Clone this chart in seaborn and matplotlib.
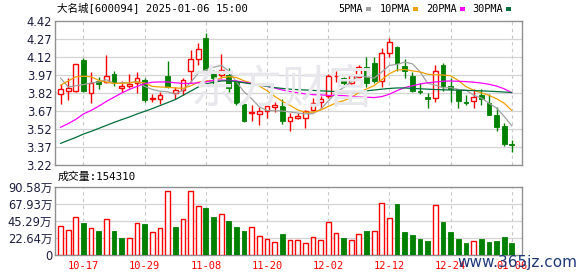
import numpy as np
import pandas as pd
import matplotlib
matplotlib.use("Agg")
import matplotlib.pyplot as plt
import seaborn as sns
from matplotlib.patches import Rectangle

# ---------------- data ----------------
dates = (
    ["2024-10-%02d" % d for d in [14, 15, 16, 17, 18, 21, 22, 23, 24, 25, 28, 29, 30, 31]]
    + ["2024-11-%02d" % d for d in [1, 4, 5, 6, 7, 8, 11, 12, 13, 14, 15, 18, 19, 20, 21, 22, 25, 26, 27, 28, 29]]
    + ["2024-12-%02d" % d for d in [2, 3, 4, 5, 6, 9, 10, 11, 12, 13, 16, 17, 18, 19, 20, 23, 24, 25, 26, 27, 30, 31]]
    + ["2025-01-%02d" % d for d in [2, 3, 6]]
)
opens = [3.815, 3.834, 3.834, 4.095, 3.817, 3.917, 3.909, 3.978, 3.865, 3.880,
         3.900, 3.928, 3.770, 3.767, 3.964, 3.817, 3.842, 4.000, 4.106, 4.278,
         3.978, 3.973, 3.967, 3.917, 3.728, 3.655, 3.645, 3.670, 3.700, 3.712,
         3.584, 3.612, 3.612, 3.678, 3.742, 3.795, 3.958, 3.945, 3.900, 3.950,
         4.034, 4.073, 3.917, 4.156, 4.206, 4.045, 3.962, 3.840, 3.790, 3.778,
         4.056, 3.878, 3.850, 3.745, 3.750, 3.800, 3.740, 3.634, 3.545, 3.392]
highs = [3.898, 3.945, 4.065, 4.110, 3.995, 3.950, 4.140, 4.006, 3.920, 3.978,
         3.995, 3.942, 3.810, 3.828, 4.090, 3.867, 3.945, 4.178, 4.234, 4.323,
         4.010, 4.145, 4.030, 3.928, 3.734, 3.717, 3.700, 3.717, 3.745, 3.767,
         3.650, 3.650, 3.678, 3.778, 3.795, 3.975, 4.000, 3.955, 3.975, 4.050,
         4.120, 4.120, 4.195, 4.278, 4.210, 4.100, 3.995, 3.900, 3.817, 4.050,
         4.067, 3.945, 3.856, 3.800, 3.850, 3.856, 3.810, 3.706, 3.573, 3.428]
lows = [3.731, 3.764, 3.830, 3.830, 3.737, 3.856, 3.900, 3.878, 3.830, 3.862,
        3.820, 3.745, 3.742, 3.730, 3.860, 3.773, 3.800, 3.912, 4.056, 4.000,
        3.878, 3.945, 3.825, 3.720, 3.580, 3.590, 3.556, 3.610, 3.662, 3.565,
        3.506, 3.600, 3.530, 3.670, 3.690, 3.780, 3.915, 3.867, 3.895, 3.950,
        3.867, 3.900, 3.873, 4.120, 4.000, 3.945, 3.830, 3.810, 3.692, 3.745,
        3.834, 3.745, 3.692, 3.720, 3.695, 3.717, 3.640, 3.500, 3.378, 3.325]
closes = [3.855, 3.862, 4.062, 3.839, 3.900, 3.895, 3.959, 3.900, 3.875, 3.898,
          3.942, 3.762, 3.775, 3.800, 3.870, 3.842, 3.928, 4.100, 4.184, 4.012,
          3.945, 4.012, 3.862, 3.734, 3.590, 3.660, 3.673, 3.712, 3.723, 3.584,
          3.620, 3.628, 3.673, 3.734, 3.767, 3.962, 3.965, 3.900, 3.967, 4.034,
          3.900, 3.917, 4.156, 4.245, 4.073, 4.000, 3.840, 3.825, 3.767, 4.000,
          3.878, 3.856, 3.750, 3.740, 3.784, 3.767, 3.640, 3.540, 3.395, 3.390]
volumes = [390000, 336000, 507000, 430000, 363000, 323000, 480000, 323000, 233000, 229000,
           426000, 417000, 305000, 363000, 856000, 368000, 484000, 856000, 655000, 623000,
           511000, 552000, 457000, 377000, 323000, 377000, 256000, 211000, 170000, 283000,
           197000, 197000, 157000, 242000, 197000, 439000, 291000, 229000, 197000, 278000,
           323000, 318000, 695000, 498000, 673000, 309000, 269000, 215000, 188000, 668000,
           444000, 309000, 215000, 161000, 184000, 215000, 175000, 188000, 242000, 154310]
ma5 = [3.945, 3.870, 3.880, 3.890, 3.904, 3.912, 3.931, 3.899, 3.906, 3.905,
       3.915, 3.875, 3.850, 3.835, 3.830, 3.810, 3.843, 3.908, 3.985, 4.013,
       4.034, 4.051, 4.003, 3.913, 3.829, 3.772, 3.704, 3.674, 3.672, 3.670,
       3.662, 3.653, 3.646, 3.648, 3.684, 3.753, 3.820, 3.866, 3.912, 3.966,
       3.953, 3.944, 3.995, 4.050, 4.058, 4.078, 4.063, 3.997, 3.901, 3.886,
       3.862, 3.865, 3.850, 3.845, 3.802, 3.779, 3.736, 3.694, 3.625, 3.546]
ma10 = [3.885, 3.920, 3.955, 3.960, 3.955, 3.925, 3.910, 3.900, 3.900, 3.905,
        3.913, 3.903, 3.875, 3.870, 3.868, 3.862, 3.859, 3.879, 3.910, 3.922,
        3.922, 3.947, 3.956, 3.949, 3.921, 3.903, 3.878, 3.839, 3.793, 3.750,
        3.717, 3.679, 3.660, 3.660, 3.677, 3.708, 3.737, 3.756, 3.780, 3.825,
        3.853, 3.882, 3.931, 3.981, 4.012, 4.016, 4.004, 3.996, 3.976, 3.972,
        3.970, 3.964, 3.924, 3.873, 3.844, 3.821, 3.801, 3.772, 3.735, 3.674]
ma20 = [3.534, 3.565, 3.600, 3.645, 3.675, 3.710, 3.750, 3.785, 3.820, 3.850,
        3.875, 3.897, 3.910, 3.912, 3.912, 3.905, 3.900, 3.900, 3.905, 3.913,
        3.925, 3.928, 3.925, 3.920, 3.910, 3.900, 3.890, 3.875, 3.862, 3.845,
        3.832, 3.822, 3.812, 3.806, 3.804, 3.800, 3.800, 3.798, 3.793, 3.788,
        3.785, 3.782, 3.790, 3.810, 3.840, 3.865, 3.880, 3.895, 3.905, 3.912,
        3.918, 3.920, 3.918, 3.915, 3.910, 3.903, 3.893, 3.878, 3.855, 3.822]
ma30 = [3.400, 3.425, 3.450, 3.478, 3.500, 3.525, 3.550, 3.575, 3.598, 3.620,
        3.645, 3.667, 3.690, 3.715, 3.740, 3.765, 3.800, 3.835, 3.870, 3.895,
        3.910, 3.920, 3.922, 3.915, 3.905, 3.895, 3.885, 3.875, 3.865, 3.858,
        3.852, 3.848, 3.845, 3.842, 3.838, 3.835, 3.832, 3.830, 3.830, 3.832,
        3.838, 3.845, 3.852, 3.858, 3.862, 3.862, 3.858, 3.855, 3.852, 3.849,
        3.847, 3.845, 3.843, 3.842, 3.840, 3.838, 3.835, 3.832, 3.828, 3.824]
price_ticks = [3.22, 3.37, 3.52, 3.67, 3.82, 3.97, 4.12, 4.27, 4.42]
vol_ticks = [0, 226450, 452900, 679350, 905800]
vol_tick_labels = ["0", "22.64万", "45.29万", "67.93万", "90.58万"]
date_labels = ["10-17", "10-29", "11-08", "11-20", "12-02", "12-12", "12-24", "01-06"]
ma_names = ["5PMA", "10PMA", "20PMA", "30PMA"]
title_text = "大名城[600094] 2025-01-06 15:00"
vol_title = "成交量:154310"

# ---------------- style ----------------
sns.set_theme(style="white")
plt.rcParams["font.family"] = ["DejaVu Sans", "Noto Sans CJK SC"]
MONO = ["DejaVu Sans Mono", "Noto Sans CJK SC"]
RED = "#ff0000"
GREEN = "#008000"
ma_colors = ["#a0a0a0", "#f0a000", "#ff00ff", "#006e3a"]
GRID = "#d4d4d4"
SPINE = "#909090"
TICKC = "#1c1c40"

W, H = 578, 276
fig = plt.figure(figsize=(W / 100, H / 100), dpi=100)
fig.patch.set_facecolor("white")

def fx(px):
    return px / W

def fy(py):
    return 1 - py / H

L, R = 55, 522
ax = fig.add_axes([fx(L), fy(165), fx(R - L), (165 - 21) / H])
axv = fig.add_axes([fx(L), fy(255), fx(R - L), (255 - 187) / H])

n = len(dates)
idx = np.arange(n)
xlim = (-0.72, n + 0.33)

md = [d[5:] for d in dates]
date_pos = [md.index(lbl) for lbl in date_labels]

for a in (ax, axv):
    a.set_xlim(*xlim)
    a.set_facecolor("white")
    for s in a.spines.values():
        s.set_color(SPINE)
        s.set_linewidth(1.0)
    for p in date_pos:
        a.axvline(p, color="#c8c8c8", lw=0.8, ls=(0, (3, 3)), zorder=0)

# price grid
ax.set_ylim(price_ticks[0], price_ticks[-1])
for t in price_ticks[1:-1]:
    ax.axhline(t, color=GRID, lw=0.9, zorder=0)
ax.set_yticks(price_ticks)
ax.set_yticklabels(["%.2f" % t for t in price_ticks])
ax.set_xticks([])
ax.tick_params(axis="y", length=0, pad=2, labelsize=8.3, colors=TICKC)

# watermark
fig.text(fx(283), fy(90), "东方财富", fontsize=33, color="#e8e8ec",
         ha="center", va="center", family=["Noto Sans CJK SC"], zorder=0)

# candles
bw = 0.62
for i in range(n):
    o, h, l, c = opens[i], highs[i], lows[i], closes[i]
    up = c >= o
    col = RED if up else GREEN
    lo_b, hi_b = min(o, c), max(o, c)
    ax.vlines(i, l, lo_b, color=col, lw=1.0, zorder=3)
    ax.vlines(i, hi_b, h, color=col, lw=1.0, zorder=3)
    hb = max(hi_b - lo_b, 0.002)
    if up:
        ax.add_patch(Rectangle((i - bw / 2, lo_b), bw, hb, facecolor="white",
                               edgecolor=col, lw=1.0, zorder=4))
    else:
        ax.add_patch(Rectangle((i - bw / 2, lo_b), bw, hb, facecolor=col,
                               edgecolor=col, lw=0.6, zorder=4))

# moving averages via seaborn
ma_df = pd.DataFrame({"i": idx, "5PMA": ma5, "10PMA": ma10, "20PMA": ma20, "30PMA": ma30})
long = ma_df.melt(id_vars="i", var_name="ma", value_name="v")
sns.lineplot(data=long, x="i", y="v", hue="ma", hue_order=ma_names,
             palette=dict(zip(ma_names, ma_colors)), lw=0.9, legend=False,
             ax=ax, zorder=5)
ax.set_xlim(*xlim)
ax.set_ylim(price_ticks[0], price_ticks[-1])
ax.set_xlabel("")
ax.set_ylabel("")

# volume
axv.set_ylim(0, vol_ticks[-1])
for t in vol_ticks[1:-1]:
    axv.axhline(t, color=GRID, lw=0.9, zorder=0)
prev = [closes[0] - 1] + closes[:-1]
vb = 0.62
for i in range(n):
    up = closes[i] >= prev[i]
    if up:
        axv.add_patch(Rectangle((i - vb / 2, 0), vb, volumes[i], facecolor="white",
                                edgecolor=RED, lw=1.0, zorder=3))
    else:
        axv.add_patch(Rectangle((i - vb / 2, 0), vb, volumes[i], facecolor=GREEN,
                                edgecolor=GREEN, lw=0.6, zorder=3))
axv.set_yticks(vol_ticks)
axv.set_yticklabels(vol_tick_labels)
axv.tick_params(axis="y", length=0, pad=2, labelsize=8.3, colors=TICKC)
axv.set_xticks(date_pos)
axv.set_xticklabels(date_labels, family=MONO, fontsize=7.5, color=RED)
axv.tick_params(axis="x", length=0, pad=4)

# texts
fig.text(fx(57), fy(9), title_text, fontsize=7.6, family=MONO, color="#000000",
         ha="left", va="center")
fig.text(fx(58), fy(177), vol_title, fontsize=7.8, family=MONO, color="#000000",
         ha="left", va="center")

# legend
leg_x = [338, 380, 426, 472]
sq_x = [366, 413, 460, 506]
for name, c, lx, sx in zip(ma_names, ma_colors, leg_x, sq_x):
    fig.text(fx(lx), fy(9), name, fontsize=7.4, family=MONO, color="#000000",
             ha="left", va="center")
    fig.patches.append(Rectangle((fx(sx), fy(10.5)), fx(4.5), 3 / H, transform=fig.transFigure,
                                 facecolor=c, edgecolor="none", figure=fig))

fig.text(fx(457), fy(262), "www.365jz.com", fontsize=11, color="#1f3a7a",
         ha="left", va="center", family=["DejaVu Sans"], zorder=10)

fig.savefig("out.png", dpi=100, facecolor="white")
